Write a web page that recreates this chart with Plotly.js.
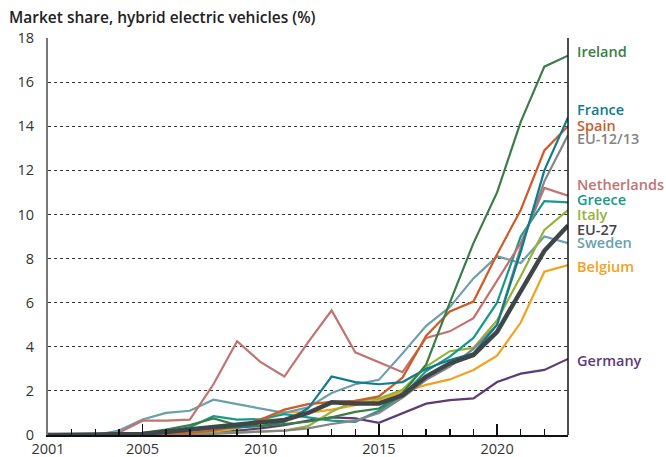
<!DOCTYPE html>
<html><head><meta charset="utf-8">
<script src="https://cdn.plot.ly/plotly-3.0.1.min.js"></script>
<style>body{margin:0;background:#fff}#c{width:666px;height:457px}</style>
</head><body><div id="c"></div>
<script>
const years = [2001,2002,2003,2004,2005,2006,2007,2008,2009,2010,2011,2012,2013,2014,2015,2016,2017,2018,2019,2020,2021,2022,2023];

const ireland     = [0,0,0,0.05,0.1,0.25,0.45,0.75,0.45,0.4,0.5,0.6,0.8,1.05,1.2,1.9,3.2,6.0,8.7,11.0,14.2,16.7,17.2];
const france      = [0,0,0,0,0.05,0.1,0.2,0.3,0.35,0.4,0.6,1.2,2.65,2.4,2.3,2.4,3.0,3.4,3.7,5.0,8.3,12.0,14.4];
const spain       = [0,0,0,0,0,0.05,0.1,0.2,0.4,0.7,1.15,1.4,1.5,1.55,1.75,2.6,4.5,5.6,6.05,8.2,10.2,12.9,14.0];
const eu1213      = [0,0,0,0,0,0,0,0.05,0.1,0.15,0.2,0.3,0.5,0.65,1.0,1.7,2.5,3.1,3.9,5.0,8.5,11.5,13.6];
const netherlands = [0,0,0,0.1,0.65,0.65,0.7,2.3,4.25,3.3,2.65,4.2,5.65,3.75,3.3,2.85,4.4,4.7,5.3,7.0,8.7,11.2,10.85];
const greece      = [0,0,0,0,0.05,0.15,0.35,0.85,0.7,0.72,0.95,0.8,0.65,0.6,1.1,1.8,2.9,3.55,4.4,6.0,9.0,10.6,10.55];
const italy       = [0,0,0,0,0,0.02,0.05,0.08,0.12,0.15,0.2,0.4,1.05,1.55,1.65,2.05,3.1,3.8,3.95,5.2,7.2,9.3,10.2];
const sweden      = [0.05,0,0,0.2,0.7,1.0,1.1,1.6,1.4,1.2,1.0,1.25,1.9,2.3,2.5,3.7,4.95,5.8,7.1,8.1,7.8,9.0,8.7];
const belgium     = [0,0,0,0,0.02,0.05,0.08,0.15,0.3,0.6,1.05,1.0,1.15,1.35,1.6,1.95,2.27,2.52,2.95,3.6,5.1,7.4,7.7];
const germany     = [0,0,0,0,0,0,0,0.1,0.2,0.3,0.45,0.65,0.8,0.75,0.55,0.98,1.42,1.58,1.66,2.4,2.78,2.95,3.45];
const eu27        = [0,0,0,0,0.05,0.15,0.25,0.37,0.45,0.55,0.68,1.0,1.48,1.43,1.43,1.8,2.65,3.25,3.63,4.68,6.55,8.35,9.5];

const seriesNames = ["Germany","Belgium","Sweden","Italy","Greece","Netherlands","EU-12/13","Spain","France","Ireland","EU-27"];
const seriesData  = [germany,belgium,sweden,italy,greece,netherlands,eu1213,spain,france,ireland,eu27];
const colors = {"Ireland":"#3b7d45","France":"#0f7b8e","Spain":"#cd5c2b","EU-12/13":"#848484","Netherlands":"#c07472",
  "Greece":"#17998c","Italy":"#95b23a","EU-27":"#3f4648","Sweden":"#6b9fac","Belgium":"#f2a21e","Germany":"#5d3c75"};

const labelNames = ["Ireland","France","Spain","EU-12/13","Netherlands","Greece","Italy","EU-27","Sweden","Belgium","Germany"];
const labelY     = [17.37,14.76,14.04,13.45,11.34,10.66,9.98,9.34,8.71,7.62,3.4];

const traces = seriesNames.map((n,i)=>({
  x: years, y: seriesData[i], type:'scatter', mode:'lines', name:n,
  line:{color:colors[n], width: n==="EU-27"?4.5:2.2}, hoverinfo:'skip'
}));

const font = "Open Sans, sans-serif";
const annotations = labelNames.map((n,i)=>({
  x:2023, y:labelY[i], xref:'x', yref:'y', text:n, showarrow:false,
  xanchor:'left', yanchor:'middle', xshift:7,
  font:{family:font, size:14.5, color:colors[n], weight: 600}
}));
annotations.push({
  x:0, y:1, xref:'paper', yref:'paper', xshift:-41, yshift:21, xanchor:'left', yanchor:'middle',
  text:"Market share, hybrid electric vehicles (%)", showarrow:false,
  font:{family:font, size:15.5, color:'#222', weight:600}
});

const layout = {
  width:666, height:457,
  margin:{l:48, r:98, t:38, b:22},
  paper_bgcolor:'#fff', plot_bgcolor:'#fff',
  showlegend:false,
  font:{family:font, size:14, color:'#333'},
  xaxis:{
    range:[2001,2023], tickvals:[2001,2005,2010,2015,2020], ticktext:["2001","2005","2010","2015","2020"],
    ticks:'inside', ticklen:11, tickcolor:'#111', tickwidth:1.5,
    minor:{ticks:'inside', tick0:2001, dtick:1, ticklen:6, tickcolor:'#111', tickwidth:1.5, showgrid:false},
    showgrid:false, zeroline:false, showline:true, linecolor:'#111', linewidth:2,
    tickfont:{family:font, size:14.5, color:'#333'}, fixedrange:true
  },
  yaxis:{
    range:[0,18], dtick:2, tick0:0, ticks:'', showgrid:true, gridcolor:'#333', griddash:'dot', gridwidth:1,
    zeroline:false, showline:true, linecolor:'#777', linewidth:2,
    tickfont:{family:font, size:14.5, color:'#333'}, ticklabelstandoff:9, fixedrange:true
  },
  shapes:[{type:'line', xref:'paper', yref:'paper', x0:1, x1:1, y0:0, y1:1, line:{color:'#111', width:1.5}}],
  annotations: annotations
};

Plotly.newPlot('c', traces, layout, {displayModeBar:false, staticPlot:true});
</script></body></html>
